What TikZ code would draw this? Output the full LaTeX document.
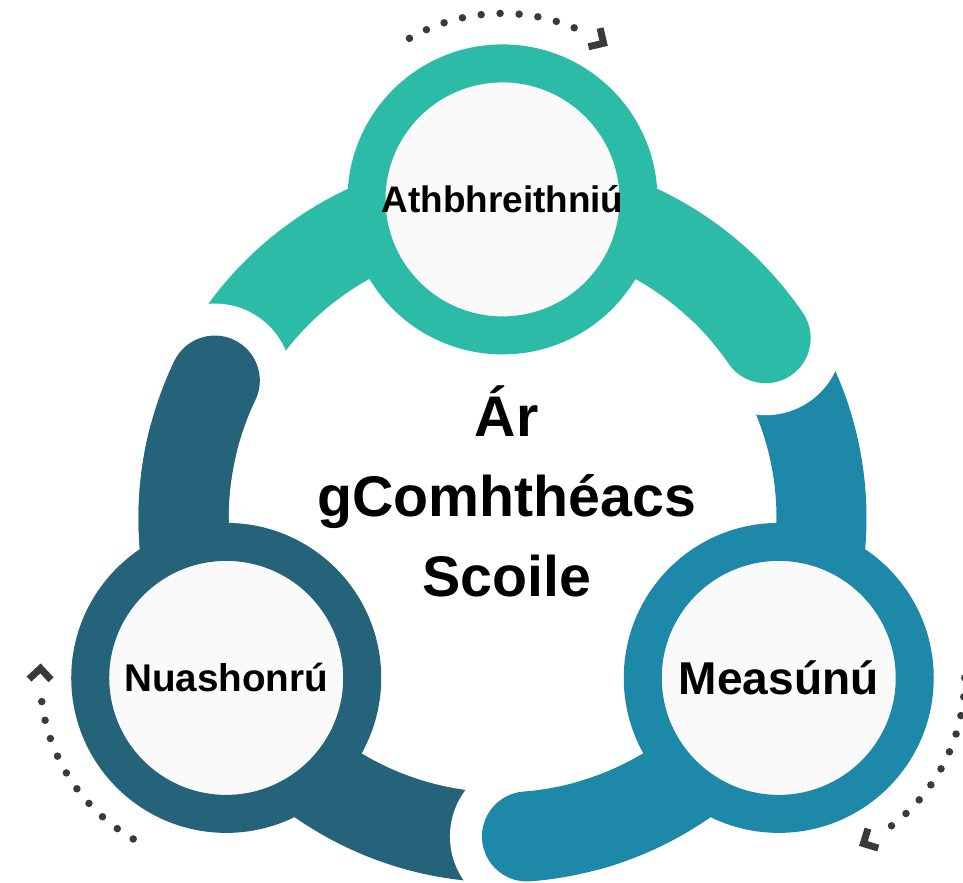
\documentclass[tikz,border=0pt]{standalone}
\usepackage{fontspec}
\setmainfont{Liberation Sans}
\usepackage{tikz}
\definecolor{revteal}{HTML}{2BBBA7}
\definecolor{assblue}{HTML}{1E88A8}
\definecolor{upddark}{HTML}{25637B}
\definecolor{dotgray}{HTML}{3A3A3A}

\begin{document}
\begin{tikzpicture}[
    band/.style={line width=0.9cm},
    ring/.style={circle, line width=0.38cm, minimum size=2.72cm, inner sep=0pt, fill=black!2},
    dots/.style={dotgray, line width=0.075cm, line cap=round, dash pattern=on 0pt off 0.19cm},
    chev/.style={dotgray, line width=0.07cm}
  ]
    \useasboundingbox (-5.025,-3.646) rectangle (4.605,5.184);

    \foreach \c/\s/\e in {revteal/154.4/34.4, assblue/34.4/-85.6, upddark/-85.6/-205.6}
        \draw[band, \c] (\s:3.19) arc[start angle=\s, end angle=\e, radius=3.19];

    \foreach \a in {34.4, -85.6, 154.4}
        \fill[white] (\a:3.19) circle (0.77);

    \foreach \c/\e in {revteal/34.4, assblue/-85.6, upddark/154.4}
        \draw[band, line cap=round, \c] (\e+30:3.19) arc[start angle=\e+30, end angle=\e, radius=3.19];

    \node[ring, draw=revteal, font=\bfseries\fontsize{10.5}{12}\selectfont] at (90:3.19) (athb) {Athbhreithniú};
    \node[ring, draw=assblue, font=\bfseries\fontsize{13.1}{15}\selectfont] at (-30:3.19) (meas) {Measúnú};
    \node[ring, draw=upddark, font=\bfseries\fontsize{11}{13}\selectfont] at (210:3.19) (nuas) {Nuashonrú};

    \node[align=center, font=\bfseries\fontsize{16.3}{22.8}\selectfont] at (0.04,0.27) (ctx) {Ár\\gComhthéacs\\Scoile};

    \foreach \n/\a in {athb/120, nuas/240, meas/0} {
        \draw[dots] ([shift={(\a:1.86)}]\n.center) arc[start angle=\a, end angle=\a-55, radius=1.86];
        \draw[chev, shift={(\n.center)}, rotate=\a-62] (1.75,0.08) -- (1.86,-0.03) -- (1.97,0.08);
    }
\end{tikzpicture}
\end{document}
